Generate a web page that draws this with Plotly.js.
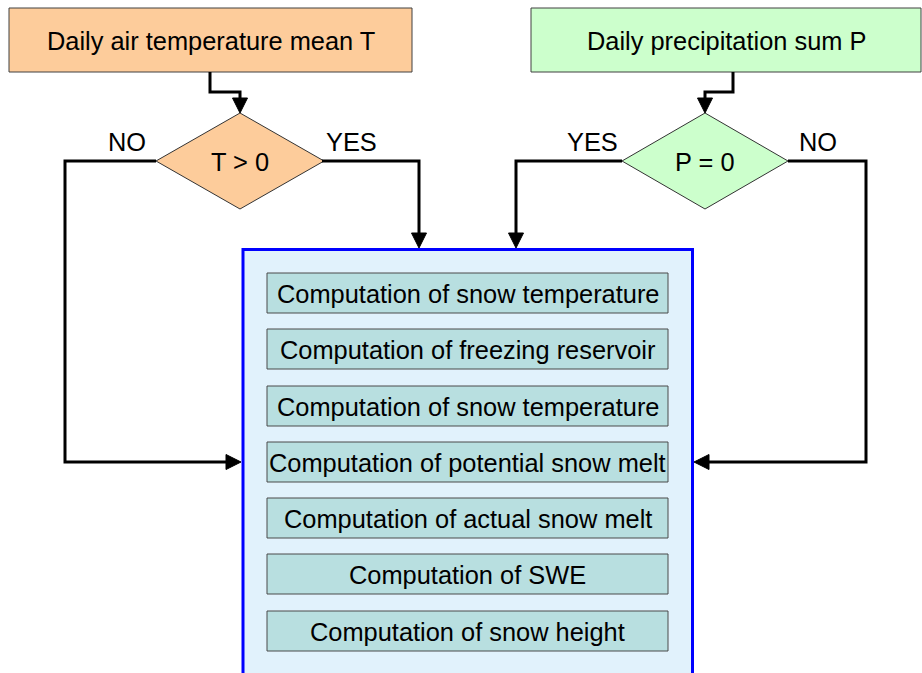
<!DOCTYPE html>
<html>
<head>
<meta charset="utf-8">
<script src="https://cdn.plot.ly/plotly-3.0.1.min.js"></script>
<style>
html,body{margin:0;padding:0;background:#fff;}
#chart{width:922px;height:673px;}
</style>
</head>
<body>
<div id="chart"></div>
<script>
// ---- content ----
const inputLabels = ["Daily air temperature mean T", "Daily precipitation sum P"];
const decisionLabels = ["T > 0", "P = 0"];
const branchLabels = ["NO", "YES", "YES", "NO"];
const stepLabels = [
  "Computation of snow temperature",
  "Computation of freezing reservoir",
  "Computation of snow temperature",
  "Computation of potential snow melt",
  "Computation of actual snow melt",
  "Computation of SWE",
  "Computation of snow height"
];

// ---- geometry (diagram layout) ----
const inputBoxes = [{x0: 9, x1: 412, y0: 8, y1: 72}, {x0: 531, x1: 921, y0: 8, y1: 72}];
const inputFill = ["#fdcc9b", "#ccffcc"];
const diamonds = [{cx: 240, cy: 161, hw: 84, hh: 48}, {cx: 705, cy: 161, hw: 83, hh: 48}];
const branchPos = [[127, 142], [351, 142], [592, 142], [818, 142]];
const bigBox = {x0: 243, x1: 692.5, y0: 249.5, y1: 690};
const stepX = [267, 668];
const stepTop = [273, 329, 386, 442, 498, 554, 611];
const stepH = 40;

const shapes = [];
const annotations = [];
const font = {family: "Liberation Sans, Arial, sans-serif", size: 25.4, color: "#000"};

// input boxes
inputBoxes.forEach((b, i) => {
  shapes.push({type: "rect", xref: "x", yref: "y", x0: b.x0, x1: b.x1, y0: b.y0, y1: b.y1,
    fillcolor: inputFill[i], line: {color: "#404040", width: 1}});
  annotations.push({x: (b.x0 + b.x1) / 2, y: (b.y0 + b.y1) / 2 + 1, text: inputLabels[i],
    showarrow: false, xanchor: "center", yanchor: "middle", font: font});
});

// diamonds
diamonds.forEach((d, i) => {
  shapes.push({type: "path", xref: "x", yref: "y",
    path: `M${d.cx},${d.cy - d.hh} L${d.cx + d.hw},${d.cy} L${d.cx},${d.cy + d.hh} L${d.cx - d.hw},${d.cy} Z`,
    fillcolor: inputFill[i], line: {color: "#333", width: 1}});
  annotations.push({x: d.cx, y: d.cy + 1, text: decisionLabels[i], showarrow: false,
    xanchor: "center", yanchor: "middle", font: font});
});

branchLabels.forEach((t, i) => {
  annotations.push({x: branchPos[i][0], y: branchPos[i][1], text: t, showarrow: false,
    xanchor: "center", yanchor: "middle", font: font});
});

// big box
shapes.push({type: "rect", xref: "x", yref: "y", x0: bigBox.x0, x1: bigBox.x1, y0: bigBox.y0, y1: bigBox.y1,
  fillcolor: "#e1f2fc", line: {color: "#0000ff", width: 3}});

// step boxes
stepLabels.forEach((t, i) => {
  const y0 = stepTop[i], y1 = stepTop[i] + stepH;
  shapes.push({type: "rect", xref: "x", yref: "y", x0: stepX[0], x1: stepX[1], y0: y0, y1: y1,
    fillcolor: "#b8dfe0", line: {color: "#4a4a4a", width: 1}});
  annotations.push({x: (stepX[0] + stepX[1]) / 2, y: (y0 + y1) / 2 + 1, text: t, showarrow: false,
    xanchor: "center", yanchor: "middle", font: font});
});

// connectors: polyline points, last point is arrow tip
const connectors = [
  [[210, 72], [210, 92], [240, 92], [240, 113]],
  [[733, 72], [733, 92], [705, 92], [705, 113]],
  [[322, 161], [419, 161], [419, 248]],
  [[156, 161], [65, 161], [65, 462], [241, 462]],
  [[622, 161], [516, 161], [516, 248]],
  [[788, 161], [866, 161], [866, 462], [694, 462]]
];
const ahLen = 15, ahHalf = 7.5;
connectors.forEach(pts => {
  const n = pts.length;
  const tip = pts[n - 1], prev = pts[n - 2];
  const dx = Math.sign(tip[0] - prev[0]), dy = Math.sign(tip[1] - prev[1]);
  const base = [tip[0] - dx * ahLen, tip[1] - dy * ahLen];
  let p = `M${pts[0][0]},${pts[0][1]}`;
  for (let k = 1; k < n - 1; k++) p += ` L${pts[k][0]},${pts[k][1]}`;
  p += ` L${base[0]},${base[1]}`;
  shapes.push({type: "path", xref: "x", yref: "y", path: p, line: {color: "#000", width: 3}});
  const px = -dy, py = dx;
  shapes.push({type: "path", xref: "x", yref: "y",
    path: `M${tip[0]},${tip[1]} L${base[0] + px * ahHalf},${base[1] + py * ahHalf} L${base[0] - px * ahHalf},${base[1] - py * ahHalf} Z`,
    fillcolor: "#000", line: {color: "#000", width: 1}});
});

const layout = {
  width: 922, height: 673,
  margin: {l: 0, r: 0, t: 0, b: 0},
  paper_bgcolor: "#fff", plot_bgcolor: "#fff",
  xaxis: {range: [0, 922], visible: false, fixedrange: true},
  yaxis: {range: [673, 0], visible: false, fixedrange: true},
  shapes: shapes,
  annotations: annotations,
  showlegend: false
};

Plotly.newPlot("chart", [{x: [], y: [], type: "scatter", mode: "markers", hoverinfo: "skip"}], layout,
  {staticPlot: true, displayModeBar: false});
</script>
</body>
</html>
